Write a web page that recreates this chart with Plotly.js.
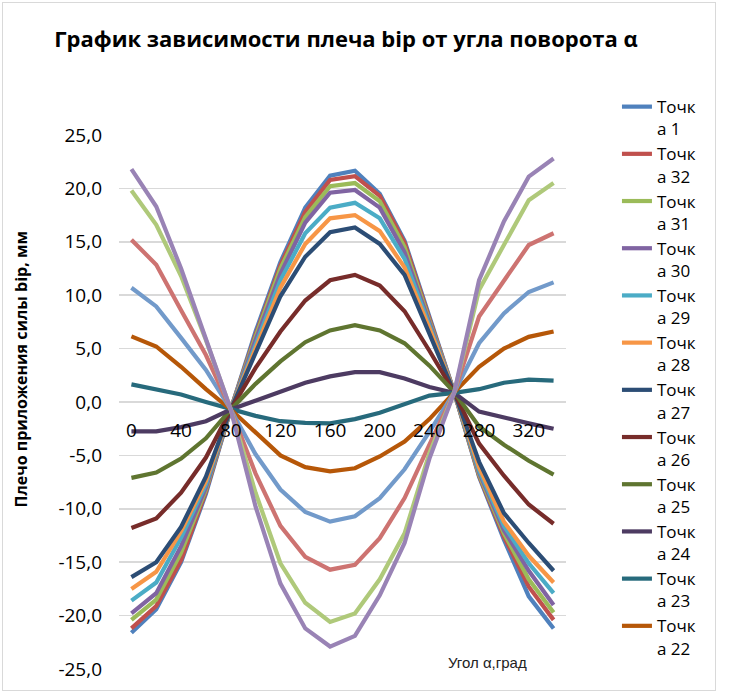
<!DOCTYPE html>
<html>
<head>
<meta charset="utf-8">
<script src="https://cdn.plot.ly/plotly-3.0.1.min.js"></script>
<style>
  html, body { margin: 0; padding: 0; background: #fff; }
  #chart { width: 733px; height: 693px; }
  #frame { position: absolute; left: 2px; top: 2px; width: 712px; height: 687px; border: 1.5px solid #d9d9d9; pointer-events: none; }
</style>
</head>
<body>
<div id="chart"></div>
<div id="frame"></div>
<script>
const angles = [0,20,40,60,80,100,120,140,160,180,200,220,240,260,280,300,320,340];

const seriesNames = ["Точка 1","Точка 32","Точка 31","Точка 30","Точка 29","Точка 28","Точка 27","Точка 26","Точка 25","Точка 24","Точка 23","Точка 22","Точка 21","Точка 20","Точка 19","Точка 18"];

const p1  = [-21.6,-19.4,-15.0,-8.6,-0.7,6.6,13.1,18.2,21.2,21.65,19.5,15.1,8.0,0.9,-7.0,-12.9,-18.2,-21.2];
const p32 = [-21.2,-19.1,-14.8,-8.4,-0.7,6.3,12.8,17.8,20.8,21.15,19.3,14.9,7.8,0.9,-6.9,-12.6,-17.3,-20.4];
const p31 = [-20.4,-18.5,-14.1,-8.2,-0.7,6.1,12.5,17.3,20.2,20.5,18.8,14.5,7.6,0.9,-6.8,-12.3,-16.6,-19.7];
const p30 = [-19.8,-17.9,-13.5,-8.0,-0.7,5.8,12.0,16.8,19.6,19.85,18.2,14.0,7.4,0.9,-6.6,-12.0,-15.8,-19.0];
const p29 = [-18.6,-16.9,-12.7,-7.7,-0.7,5.4,11.4,15.8,18.2,18.65,17.2,13.4,7.1,0.9,-6.4,-11.6,-15.1,-17.9];
const p28 = [-17.5,-15.9,-12.1,-7.4,-0.7,5.0,10.7,14.8,17.2,17.5,16.0,12.6,6.9,0.9,-6.1,-11.2,-14.4,-16.9];
const p27 = [-16.4,-15.0,-11.7,-7.0,-0.7,4.6,9.9,13.6,15.9,16.35,14.8,11.9,6.5,0.9,-5.6,-10.4,-13.2,-15.8];
const p26 = [-11.8,-10.9,-8.5,-5.2,-0.7,3.2,6.6,9.5,11.4,11.9,10.9,8.5,4.8,0.9,-3.9,-6.9,-9.6,-11.4];
const p25 = [-7.1,-6.6,-5.3,-3.4,-0.7,1.7,3.8,5.6,6.7,7.2,6.7,5.5,3.4,0.9,-2.3,-4.0,-5.5,-6.8];
const p24 = [-2.75,-2.75,-2.35,-1.8,-0.7,0.1,0.9,1.8,2.4,2.8,2.8,2.2,1.4,0.85,-0.9,-1.5,-2.0,-2.5];
const p23 = [1.65,1.2,0.7,0.0,-0.7,-1.3,-1.8,-1.95,-2.0,-1.6,-1.0,-0.2,0.6,0.85,1.2,1.8,2.1,2.0];
const p22 = [6.15,5.2,3.3,1.2,-0.7,-2.9,-5.0,-6.1,-6.5,-6.2,-5.1,-3.7,-1.6,0.9,3.3,5.0,6.1,6.6];
const p21 = [10.7,8.95,6.0,3.0,-0.7,-4.9,-8.2,-10.3,-11.2,-10.7,-9.0,-6.3,-2.8,0.9,5.5,8.3,10.3,11.2];
const p20 = [15.2,12.85,8.6,4.4,-0.7,-6.7,-11.6,-14.5,-15.7,-15.25,-12.75,-9.0,-4.0,0.9,8.0,11.4,14.7,15.8];
const p19 = [19.8,16.6,11.8,5.8,-0.7,-8.5,-15.1,-18.8,-20.6,-19.8,-16.6,-12.3,-4.8,0.9,10.5,14.8,18.9,20.5];
const p18 = [21.8,18.3,12.5,6.0,-0.7,-9.8,-17.0,-21.2,-22.9,-21.9,-18.1,-13.2,-5.3,0.9,11.4,16.9,21.1,22.8];

const xTickVals = [0,40,80,120,160,200,240,280,320];
const xTickText = ["0","40","80","120","160","200","240","280","320"];
const yTickVals = [-25,-20,-15,-10,-5,0,5,10,15,20,25];
const yTickText = ["-25,0","-20,0","-15,0","-10,0","-5,0","0,0","5,0","10,0","15,0","20,0","25,0"];

const seriesValues = [p1,p32,p31,p30,p29,p28,p27,p26,p25,p24,p23,p22,p21,p20,p19,p18];
const colors = ["#4F81BD","#C0504D","#9BBB59","#8064A2","#4BACC6","#F79646",
                "#2C4D75","#772C2A","#5F7530","#4D3B62","#276A7C","#B65708",
                "#729ACA","#CD7371","#AFC97A","#9983B5"];

const traces = seriesValues.map((vals, i) => ({
  type: "scatter",
  mode: "lines",
  x: angles,
  y: vals,
  name: "Точк<br>а " + seriesNames[i].split(" ")[1],
  line: { color: colors[i], width: 4.2 },
  showlegend: i < 12
}));

const baseFont = "Open Sans, Liberation Sans, sans-serif";

const layout = {
  width: 733,
  height: 693,
  margin: { l: 119, r: 167, t: 135, b: 24 },
  paper_bgcolor: "#ffffff",
  plot_bgcolor: "#ffffff",
  separators: ", ",
  showlegend: true,
  title: {
    text: "<b>График зависимости плеча bip от угла поворота α</b>",
    font: { family: baseFont, size: 22, color: "#000" },
    x: 0.472, xanchor: "center",
    y: 0.943, yanchor: "middle"
  },
  xaxis: {
    range: [-10, 350],
    tickmode: "array",
    tickvals: xTickVals,
    ticktext: xTickText,
    showgrid: false,
    zeroline: false,
    showline: false,
    ticks: "",
    anchor: "free",
    position: 0.5,
    ticklabelstandoff: 15,
    tickfont: { family: baseFont, size: 19, color: "#000" }
  },
  yaxis: {
    range: [-25, 25],
    tickmode: "array",
    tickvals: yTickVals,
    ticktext: yTickText,
    showgrid: true,
    gridcolor: "#d9d9d9",
    gridwidth: 1.5,
    zeroline: false,
    showline: false,
    ticks: "",
    ticklabelstandoff: 16,
    tickfont: { family: baseFont, size: 19, color: "#000" }
  },
  legend: {
    x: 1.114, xanchor: "left",
    y: 1.086, yanchor: "top",
    valign: "top",
    traceorder: "normal",
    maxheight: 690,
    font: { family: baseFont, size: 17, color: "#000" },
    bgcolor: "rgba(0,0,0,0)"
  },
  annotations: [
    {
      text: "<b>Плечо приложения силы bip, мм</b>",
      textangle: -90,
      xref: "paper", yref: "paper",
      x: -0.219, y: 0.561,
      xanchor: "center", yanchor: "middle",
      showarrow: false,
      font: { family: baseFont, size: 16, color: "#000" }
    },
    {
      text: "Угол α,град",
      xref: "paper", yref: "paper",
      x: 0.825, y: 0.013,
      xanchor: "center", yanchor: "middle",
      showarrow: false,
      font: { family: "Liberation Sans Narrow, Arial Narrow, sans-serif", size: 15, color: "#222" }
    }
  ]
};

Plotly.newPlot("chart", traces, layout, { displayModeBar: false, staticPlot: true });
</script>
</body>
</html>
